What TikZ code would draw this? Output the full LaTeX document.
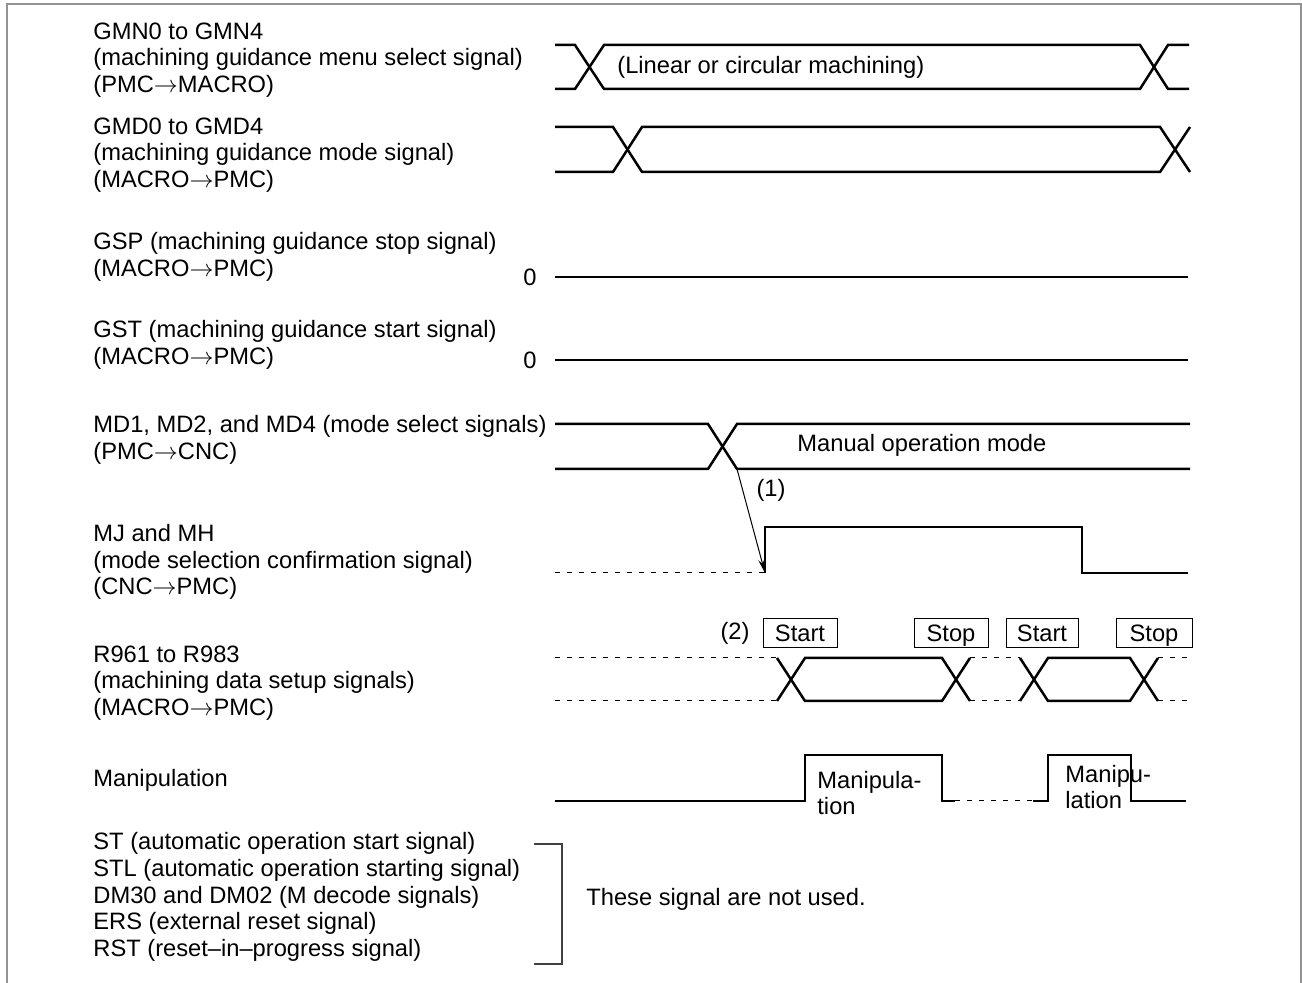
\documentclass[tikz,border=0pt]{standalone}
\usepackage{fontspec}
\setmainfont{Liberation Sans}
\usetikzlibrary{arrows.meta}
\newcommand{\sto}{$\rightarrow$}
\begin{document}
\begin{tikzpicture}[x=0.5pt,y=-0.5pt,
  every node/.style={font=\fontsize{11.85pt}{13.35pt}\selectfont, inner sep=0pt},
  lbl/.style={anchor=west, align=left},
  sig/.style={line width=1.25pt, line join=miter},
  dsh/.style={line width=0.5pt, dash pattern=on 2.5pt off 3.5pt},
  tagbox/.style={draw, line width=0.5pt, text height=11.25pt, text depth=3.25pt},
  frm/.style={draw=gray!85, line width=1.2pt},
  brk/.style={draw=black!75, line width=0.6pt}]
\useasboundingbox (0,0) rectangle (1302,983);
% frame
\draw[frm] (7,983) -- (7,4) -- (1301,4) -- (1301,983);

% left labels
\node[lbl] (lGMN) at (93,60) {GMN0 to GMN4\\(machining guidance menu select signal)\\(PMC\sto MACRO)};
\node[lbl] (lGMD) at (93,155) {GMD0 to GMD4\\(machining guidance mode signal)\\(MACRO\sto PMC)};
\node[lbl] (lGSP) at (93,257) {GSP (machining guidance stop signal)\\(MACRO\sto PMC)};
\node[lbl] (lGST) at (93,345) {GST (machining guidance start signal)\\(MACRO\sto PMC)};
\node[lbl] (lMD) at (93,440) {MD1, MD2, and MD4 (mode select signals)\\(PMC\sto CNC)};
\node[lbl] (lMJ) at (93,562) {MJ and MH\\(mode selection confirmation signal)\\(CNC\sto PMC)};
\node[lbl] (lR) at (93,683) {R961 to R983\\(machining data setup signals)\\(MACRO\sto PMC)};
\node[lbl] (lMan) at (93,780) {Manipulation};
\node[lbl] (lUnused) at (93,897) {ST (automatic operation start signal)\\STL (automatic operation starting signal)\\DM30 and DM02 (M decode signals)\\ERS (external reset signal)\\RST (reset–in–progress signal)};

% GMN
\draw[sig] (555,45) -- (575,45) -- (604,89) -- (1140,89) -- (1168,45) -- (1189,45);
\draw[sig] (555,89) -- (575,89) -- (604,45) -- (1140,45) -- (1168,89) -- (1189,89);
\node[anchor=west] (tLin) at (617,67) {(Linear or circular machining)};

% GMD
\draw[sig] (555,127) -- (613,127) -- (642,172) -- (1160,172) -- (1190,127);
\draw[sig] (555,172) -- (613,172) -- (642,127) -- (1160,127) -- (1190,172);

% GSP, GST
\node (z1) at (530,277) {0};
\draw[sig] (555,277) -- (1188,277);
\node (z2) at (530,360) {0};
\draw[sig] (555,360) -- (1188,360);

% MD
\draw[sig] (555,424) -- (708,424) -- (737,469) -- (1190,469);
\draw[sig] (555,469) -- (708,469) -- (737,424) -- (1190,424);
\node[anchor=west] (tMan) at (797,445) {Manual operation mode};

% MJ
\draw[dsh] (555,573) -- (765,573);
\draw[sig] (765,573) -- (765,527) -- (1082,527) -- (1082,573) -- (1188,573);
\coordinate (a1s) at (737,469);
\coordinate (a1e) at (765,573);
\draw[line width=0.5pt, -{Stealth[length=7pt,width=3.2pt]}] (a1s) -- (a1e);
\node (n1) at (771,490) {(1)};

% R961
\draw[dsh] (555,658) -- (777,658);
\draw[dsh] (555,701) -- (777,701);
\draw[sig] (777,658) -- (805,701) -- (942,701) -- (970,658);
\draw[sig] (777,701) -- (805,658) -- (942,658) -- (970,701);
\draw[dsh] (970,658) -- (1020,658);
\draw[dsh] (970,701) -- (1020,701);
\draw[sig] (1020,658) -- (1048,701) -- (1130,701) -- (1158,658);
\draw[sig] (1020,701) -- (1048,658) -- (1130,658) -- (1158,701);
\draw[dsh] (1158,658) -- (1188,658);
\draw[dsh] (1158,701) -- (1188,701);
\node (n2) at (735,633) {(2)};
\node[tagbox, minimum width=37pt] (b1) at (800,633.5) {Start};
\node[tagbox, minimum width=37pt] (b2) at (951,633.5) {Stop};
\node[tagbox, minimum width=36pt] (b3) at (1042,633.5) {Start};
\node[tagbox, minimum width=38pt] (b4) at (1154,633.5) {Stop};

% Manipulation
\draw[sig] (555,801) -- (805,801) -- (805,755) -- (942,755) -- (942,801) -- (955,801);
\draw[dsh] (955,801) -- (1033,801);
\draw[sig] (1033,801) -- (1048,801) -- (1048,755) -- (1131,755) -- (1131,801) -- (1186,801);
\node[lbl] (m1) at (817,793) {Manipula-\\tion};
\node[lbl] (m2) at (1065,787) {Manipu-\\lation};

% bracket
\draw[brk] (534,844) -- (562,844) -- (562,964) -- (534,964);
\node[anchor=west] (tNot) at (586,899) {These signal are not used.};
\end{tikzpicture}
\end{document}
